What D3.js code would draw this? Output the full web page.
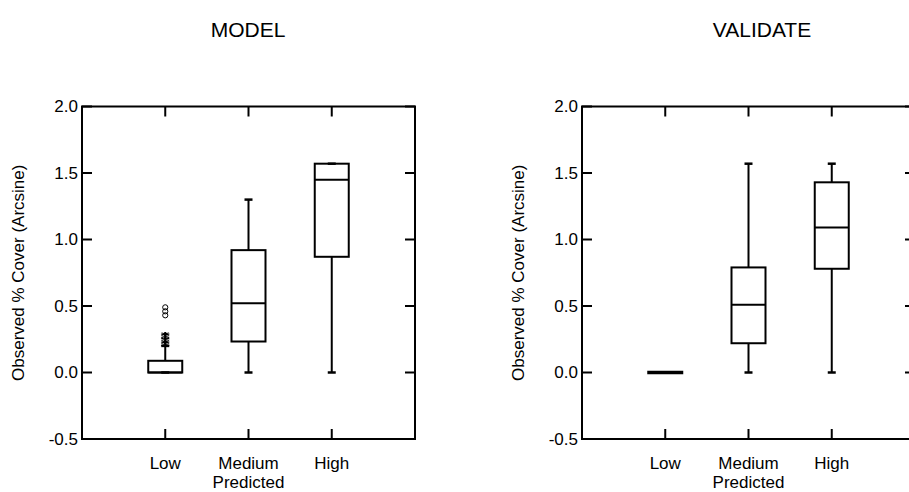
<!DOCTYPE html>
<html>
<head>
<meta charset="utf-8">
<script src="https://cdn.jsdelivr.net/npm/d3@7"></script>
<style>
  html, body { margin: 0; padding: 0; background: #fff; }
  svg { display: block; }
  text { font-family: "Liberation Sans", Arial, sans-serif; fill: #000; }
</style>
</head>
<body>
<svg id="chart" width="909" height="492"></svg>
<script>
// Categories along the x axis
const categories = ["Low", "Medium", "High"];
const yTicks = [-0.5, 0.0, 0.5, 1.0, 1.5, 2.0];

// MODEL panel: box-plot summaries per predicted class
const modelMin    = [0.00, 0.00, 0.00];
const modelQ1     = [0.00, 0.233, 0.87];
const modelMedian = [0.00, 0.52, 1.45];
const modelQ3     = [0.088, 0.92, 1.57];
const modelMax    = [0.20, 1.30, 1.57];
// Outside values (asterisks) and far-outside values (circles), Low class
const modelOutside    = [0.21, 0.23, 0.25, 0.27, 0.29];
const modelFarOutside = [0.43, 0.46, 0.49];

// VALIDATE panel
const validateMin    = [0.00, 0.00, 0.00];
const validateQ1     = [0.00, 0.22, 0.78];
const validateMedian = [0.00, 0.51, 1.09];
const validateQ3     = [0.00, 0.79, 1.43];
const validateMax    = [0.00, 1.57, 1.57];
const validateOutside = [];
const validateFarOutside = [];

const svg = d3.select("#chart");

function panel(opts) {
  const x = d3.scaleLinear().domain([0, 4]).range([opts.left, opts.left + 333]);
  const y = d3.scaleLinear().domain([-0.5, 2.0]).range([439, 106.5]);
  const g = svg.append("g");
  const catPos = categories.map((c, i) => i + 1);
  const tickLen = 10;

  // Frame: four sides with inward ticks
  const frame = g.append("g").attr("stroke", "#000").attr("stroke-width", 2).attr("fill", "none");
  frame.append("rect")
    .attr("x", x(0)).attr("y", y(2.0))
    .attr("width", x(4) - x(0)).attr("height", y(-0.5) - y(2.0));
  yTicks.forEach(v => {
    frame.append("line").attr("x1", x(0)).attr("x2", x(0) + tickLen).attr("y1", y(v)).attr("y2", y(v));
    frame.append("line").attr("x1", x(4)).attr("x2", x(4) - tickLen).attr("y1", y(v)).attr("y2", y(v));
  });
  catPos.forEach(p => {
    frame.append("line").attr("x1", x(p)).attr("x2", x(p)).attr("y1", y(-0.5)).attr("y2", y(-0.5) - tickLen);
    frame.append("line").attr("x1", x(p)).attr("x2", x(p)).attr("y1", y(2.0)).attr("y2", y(2.0) + tickLen);
  });

  // Tick labels
  yTicks.forEach(v => {
    g.append("text").attr("x", x(0) - 4).attr("y", y(v)).attr("dy", "0.35em")
      .attr("text-anchor", "end").attr("font-size", 17).text(v.toFixed(1));
  });
  categories.forEach((c, i) => {
    g.append("text").attr("x", x(i + 1)).attr("y", 469)
      .attr("text-anchor", "middle").attr("font-size", 17).text(c);
  });
  g.append("text").attr("x", x(2)).attr("y", 488)
    .attr("text-anchor", "middle").attr("font-size", 17).text("Predicted");
  g.append("text")
    .attr("transform", `translate(${opts.left - 64},${(y(2) + y(-0.5)) / 2}) rotate(-90)`)
    .attr("dy", "0.35em").attr("text-anchor", "middle").attr("font-size", 17)
    .text("Observed % Cover (Arcsine)");
  g.append("text").attr("x", opts.titleX).attr("y", 37)
    .attr("text-anchor", "middle").attr("font-size", 21).text(opts.title);

  // Box plots
  const boxW = 34, capW = 8;
  const boxes = g.append("g").attr("stroke", "#000").attr("stroke-width", 2).attr("fill", "none");
  categories.forEach((c, i) => {
    const cx = x(i + 1);
    boxes.append("line").attr("x1", cx).attr("x2", cx).attr("y1", y(opts.q3[i])).attr("y2", y(opts.max[i]));
    boxes.append("line").attr("x1", cx).attr("x2", cx).attr("y1", y(opts.q1[i])).attr("y2", y(opts.min[i]));
    boxes.append("line").attr("x1", cx - capW / 2).attr("x2", cx + capW / 2)
      .attr("y1", y(opts.max[i])).attr("y2", y(opts.max[i])).attr("stroke-width", 2.5);
    boxes.append("line").attr("x1", cx - capW / 2).attr("x2", cx + capW / 2)
      .attr("y1", y(opts.min[i])).attr("y2", y(opts.min[i])).attr("stroke-width", 2.5);
    if (opts.q3[i] === opts.q1[i]) {
      // Collapsed box: all quartiles coincide
      boxes.append("line").attr("x1", cx - boxW / 2 - 1).attr("x2", cx + boxW / 2 + 1)
        .attr("y1", y(opts.q1[i])).attr("y2", y(opts.q1[i])).attr("stroke-width", 3.5);
    } else {
      boxes.append("rect").attr("x", cx - boxW / 2).attr("width", boxW)
        .attr("y", y(opts.q3[i])).attr("height", y(opts.q1[i]) - y(opts.q3[i]));
      boxes.append("line").attr("x1", cx - boxW / 2).attr("x2", cx + boxW / 2)
        .attr("y1", y(opts.median[i])).attr("y2", y(opts.median[i]));
    }
  });

  // Outside values drawn as asterisks on the Low class
  const lowX = x(1);
  const star = d3.symbol().type(d3.symbolAsterisk).size(22);
  opts.outside.forEach(v => {
    g.append("path").attr("d", star()).attr("transform", `translate(${lowX},${y(v)}) scale(1.6,0.7)`)
      .attr("fill", "none").attr("stroke", "#000").attr("stroke-width", 1.3);
  });
  opts.farOutside.forEach(v => {
    g.append("circle").attr("cx", lowX).attr("cy", y(v)).attr("r", 2.6)
      .attr("fill", "none").attr("stroke", "#000").attr("stroke-width", 1);
  });
}

panel({ left: 82, title: "MODEL", titleX: 248,
  min: modelMin, q1: modelQ1, median: modelMedian, q3: modelQ3, max: modelMax,
  outside: modelOutside, farOutside: modelFarOutside });
panel({ left: 582, title: "VALIDATE", titleX: 762,
  min: validateMin, q1: validateQ1, median: validateMedian, q3: validateQ3, max: validateMax,
  outside: validateOutside, farOutside: validateFarOutside });
</script>
</body>
</html>
